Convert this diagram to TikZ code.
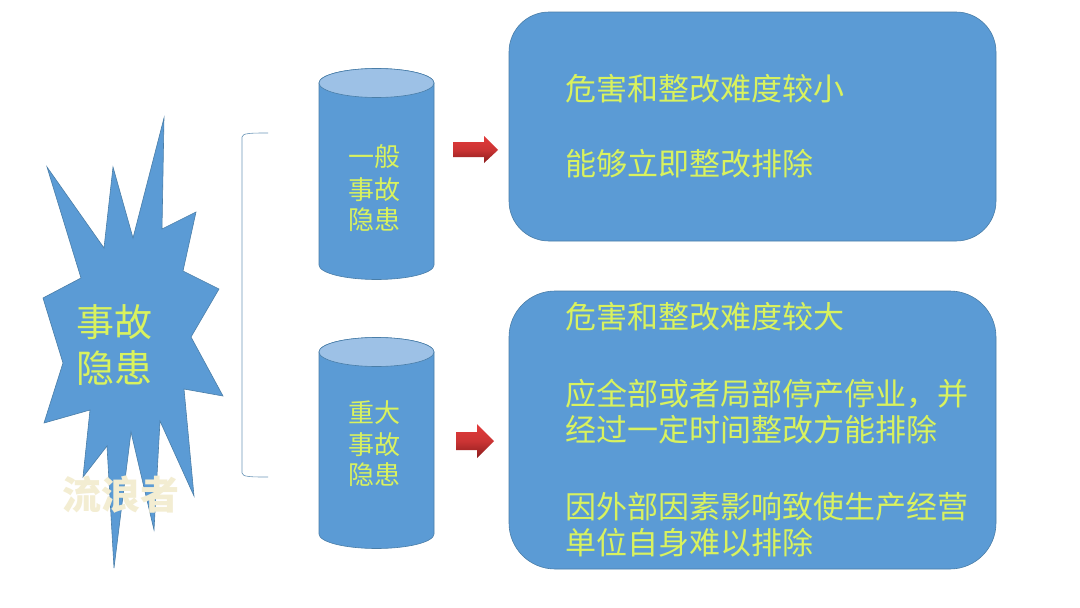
\documentclass[tikz,border=0pt]{standalone}
\usepackage{fontspec}
\setmainfont{Noto Sans CJK SC}
\definecolor{bluefill}{HTML}{5B9BD5}
\definecolor{blueedge}{HTML}{4A7EA8}
\definecolor{bluetop}{HTML}{9DC1E6}
\definecolor{txt}{HTML}{D9F25E}
\definecolor{wm}{HTML}{F3EDD2}
\definecolor{arrowtop}{HTML}{E23A3A}
\definecolor{arrowbot}{HTML}{8A1C1C}
\tikzset{
  x=1pt,y=-1pt,
  every node/.style={inner sep=0pt,outer sep=0pt},
  panel/.style={fill=bluefill,draw=blueedge,line width=0.6pt},
  paneltext/.style={text=txt,font=\fontsize{31}{31}\selectfont,anchor=west},
  cyltext/.style={text=txt,font=\fontsize{26}{26}\selectfont,anchor=center},
  bursttext/.style={text=txt,font=\fontsize{38}{38}\selectfont,anchor=center},
  blockarrow/.style={top color=arrowtop,bottom color=arrowbot,middle color=arrowtop!90!black},
}
\newcommand{\tank}[3]{% x left, y top of the ellipse centre, y of the bottom ellipse centre
  \path[panel] (#1,#2) -- (#1,#3) arc[start angle=180,end angle=360,x radius=57.5pt,y radius=14.5pt]
     -- (#1+115,#2) arc[start angle=0,end angle=180,x radius=57.5pt,y radius=14.5pt] -- cycle;
  \path[fill=bluetop,draw=blueedge,line width=0.6pt] (#1+57.5,#2) ellipse[x radius=57.5pt,y radius=14.5pt];
}
\begin{document}
\begin{tikzpicture}
\useasboundingbox (0,0) rectangle (1080,608);
\fill[white] (0,0) rectangle (1080,608);

% burst
\path[panel] (164,118) -- (162,229) -- (196,212) -- (183,271) -- (219,289) -- (191,337)
  -- (223,396) -- (184,389) -- (194,496) -- (160,421) -- (154,530) -- (131,432)
  -- (114,568) -- (107,446) -- (83,477) -- (90,410) -- (44,423) -- (63,363)
  -- (43,298) -- (81,278) -- (47,167) -- (104,248) -- (113,167) -- (133,238) -- cycle;
\node[bursttext] (b1) at (114,322) {事故};
\node[bursttext] (b2) at (114,368) {隐患};
\node[text=wm,font=\fontsize{39}{39}\selectfont\bfseries] (mark) at (121,495) {流浪者};

% bracket
\draw[blueedge!80,line width=0.6pt] (268,133) .. controls (252,133) and (242,133) .. (242,137)
   -- (242,473) .. controls (242,477) and (252,477) .. (268,477);

% cylinders
\tank{319}{83}{265}
\tank{319}{352}{534}
\node[cyltext] (c1a) at (374,157) {一般};
\node[cyltext] (c1b) at (374,190) {事故};
\node[cyltext] (c1c) at (374,220) {隐患};
\node[cyltext] (c2a) at (374,413) {重大};
\node[cyltext] (c2b) at (374,445) {事故};
\node[cyltext] (c2c) at (374,475) {隐患};

% arrows
\path[blockarrow] (453,142) -- (484,142) -- (484,136) -- (498,150) -- (484,163) -- (484,157) -- (453,157) -- cycle;
\path[blockarrow] (456,432) -- (477,432) -- (477,424) -- (494,441) -- (477,458) -- (477,450) -- (456,450) -- cycle;

% panels
\path[panel] (509,52) arc[start angle=180,end angle=90,radius=40pt] -- (956,12)
  arc[start angle=90,end angle=0,radius=40pt] -- (996,201)
  arc[start angle=0,end angle=-90,radius=40pt] -- (549,241)
  arc[start angle=270,end angle=180,radius=40pt] -- cycle;
\path[panel] (509,337) arc[start angle=180,end angle=90,radius=46pt] -- (950,291)
  arc[start angle=90,end angle=0,radius=46pt] -- (996,523)
  arc[start angle=0,end angle=-90,radius=46pt] -- (555,569)
  arc[start angle=270,end angle=180,radius=46pt] -- cycle;

\node[paneltext] (t1) at (565,89) {危害和整改难度较小};
\node[paneltext] (t2) at (565,164) {能够立即整改排除};
\node[paneltext] (t3) at (565,317) {危害和整改难度较大};
\node[paneltext] (t4) at (565,394) {应全部或者局部停产停业，并};
\node[paneltext] (t5) at (565,430) {经过一定时间整改方能排除};
\node[paneltext] (t6) at (565,507) {因外部因素影响致使生产经营};
\node[paneltext] (t7) at (565,543) {单位自身难以排除};
\end{tikzpicture}
\end{document}
